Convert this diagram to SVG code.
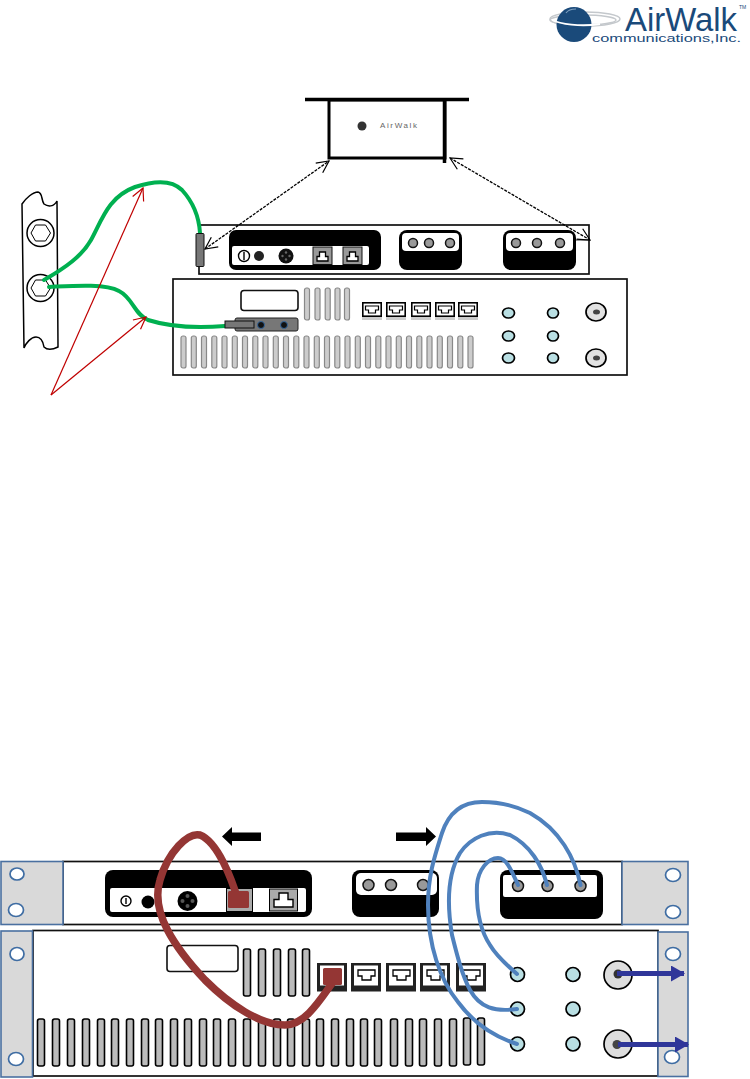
<svg xmlns="http://www.w3.org/2000/svg" width="750" height="1079" viewBox="0 0 750 1079">
<style>
.dev{fill:#fff;stroke:#111;stroke-width:1.7}
.ear{fill:#d9d9d9;stroke:#4a70a0;stroke-width:1.6}
.hole{fill:#fff;stroke:#3f6da3;stroke-width:1.7}
.blk{fill:#000}
.wht{fill:#fff}
.pin{fill:#999;stroke:#111;stroke-width:1.5}
.v1{fill:#ccc;stroke:#888;stroke-width:1.2}
.v2{fill:#bbb;stroke:#000;stroke-width:1.6}
.lbl{fill:#fff;stroke:#111;stroke-width:1.6}
.tq{fill:#b9dfe3;stroke:#000;stroke-width:1.7}
.grn{fill:none;stroke:#00b050;stroke-width:4;stroke-linecap:round}
.red{fill:none;stroke:#c00000;stroke-width:1.2;marker-end:url(#ra)}
.dash{fill:none;stroke:#000;stroke-width:1.300;stroke-dasharray:3 1.2;marker-start:url(#oa);marker-end:url(#oa)}
.bcab{fill:none;stroke:#4f81bd;stroke-width:4;stroke-linecap:round}
.rcab{fill:none;stroke:#943634;stroke-width:7.500}
.barw{stroke:#2f3699;stroke-width:5;fill:none;marker-end:url(#ba)}
.logo{font-family:"Liberation Sans",Arial,sans-serif;fill:#1a4a7a}
</style>
<defs>
<marker id="ra" viewBox="0 0 14 14" refX="13" refY="7" markerWidth="14" markerHeight="14" markerUnits="userSpaceOnUse" orient="auto"><path d="M1,1 L13,7 L1,13" fill="none" stroke="#c00000" stroke-width="1.200"/></marker>
<marker id="oa" viewBox="0 0 14 14" refX="13" refY="7" markerWidth="14" markerHeight="14" markerUnits="userSpaceOnUse" orient="auto-start-reverse"><path d="M1,1 L13,7 L1,13" fill="none" stroke="#000" stroke-width="1.200"/></marker>
<marker id="ba" viewBox="0 0 14 16" refX="13" refY="8" markerWidth="14" markerHeight="16" markerUnits="userSpaceOnUse" orient="auto"><path d="M0,0 L14,8 L0,16 Z" fill="#2f3699"/></marker>
<g id="p1"><rect x="0" y="0" width="20" height="18" fill="#ccc"/><rect x="0.800" y="0.800" width="18.400" height="13.400" fill="#fff" stroke="#000" stroke-width="1.600"/><path d="M3.500,4 H16.500 V8 H13.500 V11 H6.500 V8 H3.500 Z" fill="#fff" stroke="#000" stroke-width="1.200"/></g>
<g id="p2"><rect x="0" y="0" width="30" height="28.500" fill="#222"/><rect x="3" y="2.500" width="24" height="20" fill="#fff"/><path d="M7,7 H24 V13 H20 V17 H11 V13 H7 Z" fill="#fff" stroke="#000" stroke-width="1.300"/></g>
<g id="p3"><rect x="0" y="0" width="19" height="17.500" fill="#999" stroke="#111"/><path d="M4,14 V9.500 H6.500 V5 H12.500 V9.500 H15 V14 Z" fill="#fff" stroke="#000" stroke-width="1.300"/></g>
<rect id="va" class="v1" x="-2.500" y="0" width="5" height="32" rx="2"/>
<rect id="vb" class="v2" x="-3.500" y="0" width="7" height="47" rx="2"/>
</defs>

<g id="logo">
<ellipse cx="585" cy="19" rx="35" ry="7" fill="none" stroke="#c4c8cc" stroke-width="1.500"/>
<ellipse cx="583" cy="20" rx="33" ry="5" fill="none" stroke="#c4c8cc" stroke-width="1.500"/>
<circle cx="574" cy="24.500" r="17.500" fill="#1a4a7a"/>
<path d="M552,20 C560,24 580,27 600,24" fill="none" stroke="#fff" stroke-width="1.800"/>
<path d="M566,13 C568,10 572,9 576,9" fill="none" stroke="#7f9fbf" stroke-width="1.200"/>
<text class="logo" x="625" y="31" font-size="33" textLength="112" lengthAdjust="spacingAndGlyphs">AirWalk</text>
<text class="logo" x="592" y="42" font-size="11.500" textLength="149" lengthAdjust="spacingAndGlyphs">communications,Inc.</text>
<text class="logo" x="739" y="9" font-size="5">TM</text>
</g>

<g id="rail">
<path d="M22,204 C26,198 33,192 38,192 C43,193 41,200 44,204 C48,207 54,207 57,201 L58,347 C52,350 47,350 44,347 C43,341 41,337 36,337 C31,337 26,343 24,348 Z" fill="#fff" stroke="#000" stroke-width="1.500"/>
<circle cx="40.500" cy="233" r="13.500" fill="#fff" stroke="#000" stroke-width="1.500"/>
<path d="M31,233 L35.500,225 H45.500 L50.500,233 L45.500,241 H35.500 Z" fill="none" stroke="#000" stroke-width="1"/>
<circle cx="40.500" cy="288" r="13.500" fill="#fff" stroke="#000" stroke-width="1.500"/>
<path d="M31,288 L35.500,280 H45.500 L50.500,288 L45.500,296 H35.500 Z" fill="none" stroke="#000" stroke-width="1"/>
</g>

<g id="top-box">
<rect x="329" y="100" width="116" height="58" fill="#fff" stroke="#000" stroke-width="3"/>
<path d="M305,99.500 H469 M444.500,100 V163" stroke="#000" stroke-width="3.500" fill="none"/>
<circle cx="362" cy="126" r="4.500" fill="#333"/>
<text x="380" y="128" font-family="'Liberation Sans',Arial,sans-serif" font-size="8" fill="#666" textLength="37">AirWalk</text>
</g>

<g id="device-a">
<rect class="dev" x="199" y="225" width="390" height="49"/>
<rect class="blk" x="229" y="230" width="152" height="40" rx="7"/>
<rect class="wht" x="232" y="246" width="137" height="19" rx="2"/>
<circle cx="244" cy="256" r="5.500" fill="#fff" stroke="#000" stroke-width="1.400"/>
<path d="M244,252 V260" stroke="#000" stroke-width="1.400"/>
<circle cx="259" cy="256" r="5" fill="#222"/>
<circle cx="286" cy="256" r="7.500" fill="#111"/>
<circle cx="286" cy="252.500" r="1.200" fill="#666"/><circle cx="282.500" cy="256" r="1.200" fill="#666"/><circle cx="289.500" cy="256" r="1.200" fill="#666"/><circle cx="286" cy="259.500" r="1.200" fill="#666"/>
<use href="#p3" x="313" y="247"/>
<use href="#p3" x="343" y="247"/>
<rect class="blk" x="399" y="230" width="63" height="40" rx="8"/>
<rect class="wht" x="402" y="233" width="57" height="18" rx="4"/>
<circle class="pin" cx="413" cy="243" r="4.500"/><circle class="pin" cx="429" cy="243" r="4.500"/><circle class="pin" cx="450" cy="243" r="4.500"/>
<rect class="blk" x="503" y="230" width="73" height="40" rx="8"/>
<rect class="wht" x="506" y="233" width="67" height="18" rx="4"/>
<circle class="pin" cx="516" cy="243" r="4.500"/><circle class="pin" cx="537" cy="243" r="4.500"/><circle class="pin" cx="560" cy="243" r="4.500"/>
<path d="M576,240 H590" stroke="#333" stroke-width="1"/>
</g>

<g id="device-b">
<rect class="dev" x="173" y="279" width="454" height="96"/>
<rect class="lbl" x="241" y="290.500" width="57" height="20" rx="3"/>
<use href="#va" x="307" y="288"/><use href="#va" x="317.500" y="288"/><use href="#va" x="327.700" y="288"/><use href="#va" x="337.500" y="288"/><use href="#va" x="347" y="288"/>
<use href="#p1" x="362" y="302"/><use href="#p1" x="386" y="302"/><use href="#p1" x="411" y="302"/><use href="#p1" x="435" y="302"/><use href="#p1" x="458" y="302"/>
<use href="#va" x="183.500" y="336"/><use href="#va" x="193.800" y="336"/><use href="#va" x="204" y="336"/><use href="#va" x="214.300" y="336"/><use href="#va" x="224.500" y="336"/><use href="#va" x="234.800" y="336"/><use href="#va" x="245" y="336"/><use href="#va" x="255.300" y="336"/><use href="#va" x="265.500" y="336"/><use href="#va" x="275.800" y="336"/><use href="#va" x="286" y="336"/><use href="#va" x="296.300" y="336"/><use href="#va" x="306.500" y="336"/><use href="#va" x="316.800" y="336"/><use href="#va" x="327" y="336"/><use href="#va" x="337.300" y="336"/><use href="#va" x="347.500" y="336"/><use href="#va" x="357.800" y="336"/><use href="#va" x="368" y="336"/><use href="#va" x="378.300" y="336"/><use href="#va" x="388.500" y="336"/><use href="#va" x="398.800" y="336"/><use href="#va" x="409" y="336"/><use href="#va" x="419.300" y="336"/><use href="#va" x="429.500" y="336"/><use href="#va" x="439.800" y="336"/><use href="#va" x="450" y="336"/><use href="#va" x="460.300" y="336"/><use href="#va" x="470.500" y="336"/>
<rect x="235" y="318" width="63" height="13" rx="2" fill="#777" stroke="#222"/>
<circle cx="261" cy="325" r="3.500" fill="#111" stroke="#36689e"/><circle cx="284" cy="325" r="3.500" fill="#111" stroke="#36689e"/>
<ellipse class="tq" cx="508.500" cy="313" rx="6" ry="5"/><ellipse class="tq" cx="553" cy="313" rx="5.500" ry="5"/>
<ellipse class="tq" cx="508.500" cy="336" rx="6" ry="5"/><ellipse class="tq" cx="553" cy="336" rx="5.500" ry="5"/>
<ellipse class="tq" cx="508.500" cy="358" rx="6" ry="5"/><ellipse class="tq" cx="553" cy="358" rx="5.500" ry="5"/>
<ellipse cx="596" cy="312" rx="10" ry="9" fill="#e2e2e2" stroke="#000" stroke-width="1.700"/><ellipse cx="596.500" cy="312" rx="3.500" ry="2.500" fill="#444"/>
<ellipse cx="596" cy="358" rx="10" ry="9" fill="#e2e2e2" stroke="#000" stroke-width="1.700"/><ellipse cx="596.500" cy="358" rx="3.500" ry="2.500" fill="#444"/>
</g>

<g id="bottom-a">
<rect class="dev" x="63" y="861.500" width="559" height="63"/>
<rect class="ear" x="1" y="861.500" width="62" height="63"/>
<rect class="ear" x="622" y="861.500" width="66" height="63"/>
<ellipse class="hole" cx="17" cy="874" rx="7" ry="6"/><ellipse class="hole" cx="16" cy="910" rx="7.500" ry="6.500"/>
<ellipse class="hole" cx="673" cy="875" rx="7.500" ry="6.500"/><ellipse class="hole" cx="673" cy="912" rx="7.500" ry="6.500"/>
<rect class="blk" x="105" y="870" width="207" height="47" rx="8"/>
<rect class="wht" x="110" y="888" width="196" height="24" rx="2"/>
<circle cx="126" cy="901" r="5" fill="#fff" stroke="#000" stroke-width="1.400"/><path d="M126,898 V904" stroke="#000" stroke-width="1.400"/>
<circle cx="148" cy="902" r="6.500" fill="#000"/>
<circle cx="187.500" cy="901" r="10" fill="#000"/>
<circle cx="187.500" cy="896" r="2" fill="#555"/><circle cx="182.500" cy="901" r="2" fill="#555"/><circle cx="192.500" cy="901" r="2" fill="#555"/><circle cx="187.500" cy="906" r="2" fill="#555"/>
<rect x="226.500" y="888.500" width="26" height="23" fill="#aaa" stroke="#000"/>
<rect x="269.500" y="889" width="28" height="22" fill="#aaa" stroke="#000"/>
<path d="M274,907 V899.500 H279 V893 H288 V899.500 H293 V907 Z" fill="#fff" stroke="#000" stroke-width="1.400"/>
<rect class="blk" x="352" y="870" width="87" height="47" rx="8"/>
<rect class="wht" x="356" y="873" width="81" height="22" rx="5"/>
<circle class="pin" cx="368.500" cy="885" r="5.500"/><circle class="pin" cx="391" cy="885" r="5.500"/><circle class="pin" cx="423" cy="885" r="5.500"/>
<rect class="blk" x="500" y="870" width="103" height="49" rx="8"/>
<rect class="wht" x="503" y="875" width="94" height="22" rx="2"/>
<circle class="pin" cx="518" cy="886" r="5.500"/><circle class="pin" cx="547.500" cy="886" r="5.500"/><circle class="pin" cx="580.500" cy="886" r="5.500"/>
</g>

<g id="bottom-b">
<rect class="dev" x="33" y="930.500" width="625" height="145.500"/>
<rect class="ear" x="1" y="931" width="31.500" height="146"/>
<rect class="ear" x="658" y="932" width="30" height="144.500"/>
<ellipse class="hole" cx="17" cy="954" rx="7" ry="6.500"/><ellipse class="hole" cx="16" cy="1059" rx="7.500" ry="6.500"/>
<ellipse class="hole" cx="673" cy="954" rx="7.500" ry="6.500"/><ellipse class="hole" cx="672" cy="1057" rx="7.500" ry="6.500"/>
<rect class="lbl" x="167" y="945.500" width="71" height="26" rx="3"/>
<use href="#vb" x="247" y="949"/><use href="#vb" x="262" y="949"/><use href="#vb" x="277" y="949"/><use href="#vb" x="292" y="949"/><use href="#vb" x="306" y="949"/>
<use href="#p2" x="317" y="963"/><use href="#p2" x="351" y="963"/><use href="#p2" x="386" y="963"/><use href="#p2" x="420" y="963"/><use href="#p2" x="456" y="963"/>
<use href="#vb" x="41" y="1019"/><use href="#vb" x="56" y="1019"/><use href="#vb" x="71" y="1019"/><use href="#vb" x="86" y="1019"/><use href="#vb" x="101" y="1019"/><use href="#vb" x="115" y="1019"/><use href="#vb" x="130" y="1019"/><use href="#vb" x="145" y="1019"/><use href="#vb" x="159" y="1019"/><use href="#vb" x="174" y="1019"/><use href="#vb" x="188" y="1019"/><use href="#vb" x="203" y="1019"/><use href="#vb" x="217" y="1019"/><use href="#vb" x="232" y="1019"/><use href="#vb" x="247" y="1019"/><use href="#vb" x="262" y="1019"/><use href="#vb" x="277" y="1019"/><use href="#vb" x="291" y="1019"/><use href="#vb" x="306" y="1019"/><use href="#vb" x="320" y="1019"/><use href="#vb" x="335" y="1019"/><use href="#vb" x="350" y="1019"/><use href="#vb" x="364" y="1019"/><use href="#vb" x="378" y="1019"/><use href="#vb" x="394" y="1019"/><use href="#vb" x="409" y="1019"/><use href="#vb" x="423" y="1019"/><use href="#vb" x="438" y="1019"/><use href="#vb" x="453" y="1019"/><use href="#vb" x="467" y="1018"/><use href="#vb" x="481" y="1018"/>
<circle class="tq" cx="517.500" cy="974.500" r="7"/><circle class="tq" cx="573" cy="974.500" r="7"/>
<circle class="tq" cx="517.500" cy="1009" r="7"/><circle class="tq" cx="573" cy="1009" r="7"/>
<circle class="tq" cx="517.500" cy="1044" r="7"/><circle class="tq" cx="573" cy="1044" r="7"/>
<circle cx="618" cy="975" r="14" fill="#ddd" stroke="#000" stroke-width="1.700"/><circle cx="618" cy="974" r="4.500" fill="#333"/>
<circle cx="618" cy="1044" r="14" fill="#ddd" stroke="#000" stroke-width="1.700"/><circle cx="617" cy="1044.500" r="4.500" fill="#444"/>
</g>

<g id="connectors">
<path class="grn" d="M44,280 C65,268 82,256 91,240 C102,220 108,197 135,187 C150,182 170,178 182,190 C193,202 199,217 200,233"/>
<path class="grn" d="M49,287 C70,286 105,283 119,291 C133,298 134,314 148,320 C170,327 200,328 225,326"/>
<rect x="196" y="233.500" width="8" height="33" rx="1" fill="#777" stroke="#111"/>
<rect x="225" y="321" width="29" height="7" fill="#777" stroke="#111"/>
<path class="red" d="M51,395 L143,188"/>
<path class="red" d="M51,395 L146,317"/>
<path class="dash" d="M205,249 L329,161"/>
<path class="dash" d="M450,158 L590,240"/>
<path class="rcab" d="M238,900 C232,880 218,842 200,835 C188,832 168,852 160,880 C150,912 175,948 205,980 C230,1005 260,1025 285,1025 C305,1025 320,1000 333,982"/>
<rect x="228" y="891" width="21" height="17" rx="1.500" fill="#943634"/>
<rect x="323" y="968" width="19" height="17" rx="1.500" fill="#943634"/>
<path class="bcab" d="M580.500,885 C575,858 560,830 530,813 C510,803 490,802 482,802 C460,802 448,815 442,833 C435,855 428,875 428,905 C428,945 440,980 458,1002 C475,1025 495,1037 517,1044"/>
<path class="bcab" d="M547,885 C542,865 530,845 510,835 C490,828 470,838 460,853 C447,875 447,905 452,935 C457,955 462,975 470,990 C480,1008 495,1012 517,1009"/>
<path class="bcab" d="M518,885 C512,872 507,858 498,858 C488,858 478,870 477,885 C476,910 480,930 490,945 C497,957 507,965 517,974"/>
<path class="barw" d="M617,973.500 H684"/>
<path class="barw" d="M618,1044.500 H688"/>
<path class="blk" d="M261,832.500 H232 V827 L222,836.500 L232,846 V841 H261 Z"/>
<path class="blk" d="M396,832.500 H426 V827 L436,836.500 L426,846 V841 H396 Z"/>
</g>
</svg>
